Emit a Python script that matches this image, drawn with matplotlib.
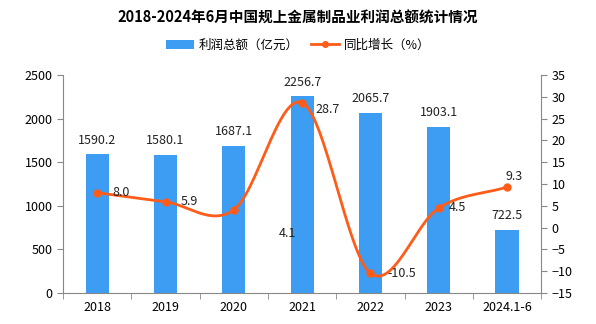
import numpy as np
import matplotlib
matplotlib.use('Agg')
import matplotlib.pyplot as plt

plt.rcParams['font.family'] = ['Noto Sans CJK SC', 'DejaVu Sans']

years = ['2018', '2019', '2020', '2021', '2022', '2023', '2024.1-6']
profit = [1590.2, 1580.1, 1687.1, 2256.7, 2065.7, 1903.1, 722.5]
growth = [8.0, 5.9, 4.1, 28.7, -10.5, 4.5, 9.3]

bar_color = '#3d9df2'
line_color = '#ff5c1a'


def smooth(x, y, n=30):
    # catmull-rom path through the points, only for the drawn curve
    x = np.asarray(x, float)
    y = np.asarray(y, float)
    px = np.concatenate([[2 * x[0] - x[1]], x, [2 * x[-1] - x[-2]]])
    py = np.concatenate([[2 * y[0] - y[1]], y, [2 * y[-1] - y[-2]]])
    xs, ys = [], []
    t = np.linspace(0, 1, n)
    for i in range(1, len(px) - 2):
        for p, out in ((px, xs), (py, ys)):
            p0, p1, p2, p3 = p[i - 1], p[i], p[i + 1], p[i + 2]
            out.extend(0.5 * ((2 * p1) + (-p0 + p2) * t
                              + (2 * p0 - 5 * p1 + 4 * p2 - p3) * t ** 2
                              + (-p0 + 3 * p1 - 3 * p2 + p3) * t ** 3))
    return xs, ys


fig = plt.figure(figsize=(5.96, 3.24), dpi=100)
ax = fig.add_axes([0.106, 0.096, 0.802, 0.672])
x = np.arange(len(years))

bars = ax.bar(x, profit, width=0.34, color=bar_color, label='利润总额（亿元）', zorder=2)
for xi, v in zip(x, profit):
    ax.text(xi, v + 90, f'{v:.1f}', ha='center', va='bottom', fontsize=9, color='#222222')

ax.set_xlim(-0.5, len(years) - 0.5)
ax.set_ylim(0, 2500)
ax.set_yticks(range(0, 2501, 500))
ax.set_xticks(x)
ax.set_xticklabels(years)
ax.set_xticks(np.arange(-0.5, len(years), 1), minor=True)
ax.tick_params(axis='x', which='major', length=0, labelsize=9, pad=6)
ax.tick_params(axis='x', which='minor', length=4, color='#888888')
ax.tick_params(axis='y', labelsize=9, length=4, color='#888888')
for s in ['top', 'right']:
    ax.spines[s].set_visible(False)
for s in ['left', 'bottom']:
    ax.spines[s].set_color('#888888')

ax2 = ax.twinx()
sx, sy = smooth(x, growth)
ax2.plot(sx, sy, color=line_color, lw=2, zorder=3)
ax2.plot(x, growth, 'o', color=line_color, ms=5, zorder=4)
ax2.plot([], [], color=line_color, lw=2, marker='o', ms=4, label='同比增长（%）')
ax2.set_ylim(-15, 35)
ax2.set_yticks(range(-15, 36, 5))
ax2.tick_params(axis='y', labelsize=9, length=4, color='#888888')
for s in ['top', 'left', 'bottom']:
    ax2.spines[s].set_visible(False)
ax2.spines['right'].set_color('#888888')

offsets = [(0.22, 0), (0.22, 0), (0.65, -5.5), (0.2, -1.5), (0.25, 0), (0.15, 0), (0.1, 2.5)]
for xi, v, (dx, dy) in zip(x, growth, offsets):
    ax2.text(xi + dx, v + dy, f'{v:.1f}', ha='left' if dx > 0.12 else 'center',
             va='center', fontsize=9, color='#222222')

fig.text(0.5, 0.945, '2018-2024年6月中国规上金属制品业利润总额统计情况',
         ha='center', va='center', fontsize=10.5, fontweight='bold')
h1, l1 = ax.get_legend_handles_labels()
h2, l2 = ax2.get_legend_handles_labels()
fig.legend(h1 + h2, l1 + l2, loc='center', bbox_to_anchor=(0.5, 0.86), ncol=2,
           frameon=False, fontsize=9, handlelength=2.2, columnspacing=1.0,
           handletextpad=0.4)

fig.savefig('out.png', dpi=100)
